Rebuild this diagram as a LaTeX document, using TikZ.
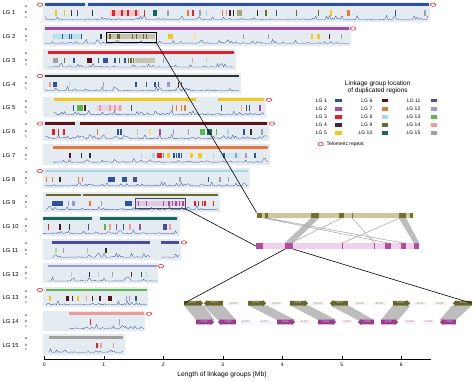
\documentclass[tikz,border=0pt]{standalone}
\usepackage{fontspec}
\setmainfont{Liberation Sans}
\usetikzlibrary{shapes.arrows,calc}
\pgfdeclarelayer{back}
\pgfsetlayers{back,main}

\definecolor{lg1}{HTML}{3050A0}
\definecolor{lg2}{HTML}{A04BA0}
\definecolor{lg3}{HTML}{E0202A}
\definecolor{lg4}{HTML}{303030}
\definecolor{lg5}{HTML}{F2C81E}
\definecolor{lg6}{HTML}{5C1018}
\definecolor{lg7}{HTML}{E8763A}
\definecolor{lg8}{HTML}{A8D8E8}
\definecolor{lg9}{HTML}{6E6A2C}
\definecolor{lg10}{HTML}{17685A}
\definecolor{lg11}{HTML}{4C4A9C}
\definecolor{lg12}{HTML}{9C9AD4}
\definecolor{lg13}{HTML}{5CB84A}
\definecolor{lg14}{HTML}{F09A9A}
\definecolor{lg15}{HTML}{A0A0A0}
\definecolor{panelbg}{HTML}{E4ECF2}
\definecolor{densblue}{HTML}{3A58A8}
\definecolor{telored}{HTML}{E0303A}
\definecolor{paleolive}{HTML}{CEC79E}
\definecolor{darkolive}{HTML}{747030}
\definecolor{palepink}{HTML}{F0D0EA}
\definecolor{deeppink}{HTML}{B04C9E}
\definecolor{geneolive}{HTML}{66662A}
\definecolor{genemag}{HTML}{9A3A90}

\tikzset{
  lglab/.style={anchor=west, inner sep=0, font=\fontsize{5.8}{6}\selectfont},
  rowlab/.style={inner sep=0, font=\fontsize{3.4}{3.6}\selectfont},
  telo/.style={draw=telored, line width=0.6pt},
  dens/.style={densblue, line width=0.35pt, line join=round},
  hlbox/.style={draw, line width=0.8pt, inner sep=0},
  zoomline/.style={black, line width=0.6pt},
  linkband/.style={fill=black!26},
  linkline/.style={draw=black!32, line width=0.6pt},
  geneR/.style={single arrow, single arrow head extend=1pt, single arrow head indent=0pt,
    inner xsep=0.4pt, inner ysep=1.2pt, text height=1.6pt, text depth=0.3pt,
    font=\fontsize{2.6}{2.8}\selectfont},
  geneL/.style={geneR, shape border rotate=180},
  topgene/.style={fill=geneolive, text=paleolive!50!white},
  botgene/.style={fill=genemag, text=palepink},
  paletag/.style={inner sep=0.4pt, minimum width=12pt, minimum height=3.6pt, text=black!45,
    font=\fontsize{2.6}{2.8}\selectfont},
  leglab/.style={anchor=east, inner sep=0, font=\fontsize{5}{5}\selectfont},
  swatch/.style={minimum width=6.7pt, minimum height=3.5pt, inner sep=0},
  ticklab/.style={inner sep=0, font=\fontsize{5}{5}\selectfont}
}

\begin{document}
\begin{tikzpicture}[x=1pt,y=-1pt]
\useasboundingbox (0,0) rectangle (474,381);
\pgfmathsetseed{11}

\foreach \i/\pe [evaluate=\i as \yl using 12.7+(\i-1)*23.77] in {1/430,2/351,3/236,4/241,5/266,6/269,7/270,8/250,9/220,10/180,11/181,12/158,13/148,14/145,15/125}{
  \fill[panelbg] (43,{\yl-11}) rectangle (\pe,{\yl+9.3});
  \node[lglab] (lg\i) at (2.5,\yl) {LG \i};
  \node[rowlab] (a\i) at (26,{\yl-6.6}) {a};
  \node[rowlab] (b\i) at (26,{\yl-0.4}) {b};
  \node[rowlab] (c\i) at (26,{\yl+4.6}) {c};
}

\foreach \i/\pa/\pb [evaluate=\i as \yl using 12.7+(\i-1)*23.77] in {1/45/85,1/88/429,2/45/349,3/48/234,4/45/239,5/54/196,5/218/264,6/45/75,6/80/267,7/53/268,8/45/248,9/46/81,9/83/218,10/43/92,10/100/177,11/52/150,11/161/179,12/48/157,13/46/147,14/69/144,15/49/123}
  \fill[lg\i] (\pa,{\yl-9.3}) rectangle (\pb,{\yl-6.7});

\foreach \i/\p [evaluate=\i as \yl using 12.7+(\i-1)*23.77] in {1/40,1/433,2/353,4/40,5/269,6/40,6/272,8/40,11/184,12/161,13/40,14/149}
  \draw[telo] (\p,{\yl-8}) ellipse (2.7pt and 1.7pt);

\foreach \i/\pa/\pb/\c [evaluate=\i as \yl using 12.7+(\i-1)*23.77] in {1/110/140/lg3!25,2/53.3/81.7/lg8!80,2/107.3/155/lg9!40,3/135/155/lg9!40,5/96.7/121.7/lg2!25,7/220/240/lg8!60,9/135.7/185/lg2!30,
  1/112/115/lg3,1/153/157/lg10,1/236.7/241.7/lg9!60,1/346.7/349.5/lg7,
  2/116.7/120/lg9,2/168.3/173.3/lg5,2/310.7/313.3/lg5,2/317.3/320/lg5,
  3/53.3/58.3/lg15,3/87.3/91.7/lg6,3/102.7/108.3/lg1,
  4/53.3/56.7/lg1,4/166.7/170/lg12,
  5/77.3/82.7/lg13,
  6/51.7/55/lg3,6/62.7/65/lg3,6/116.7/118.5/lg1,6/120/121.7/lg1,6/200/205/lg13,6/206.7/211.7/lg10,
  7/151.7/155/lg8,7/156.7/161.7/lg3,7/166.7/170/lg5,7/190/193.3/lg5,7/198.3/201.7/lg5,
  8/108.3/115/lg1,8/121.7/126.7/lg1,8/133.3/136.7/lg11,
  9/51.7/63.3/lg1,9/71.7/75/lg12,9/125/131.7/lg1,
  10/163.3/166.7/lg11,
  13/48.5/51/lg5,13/66.3/68.7/lg6,13/76.5/79/lg5,
  15/96/98.3/lg3}
  \fill[\c] (\pa,{\yl-2.3}) rectangle (\pb,{\yl+3});

\foreach \i/\p/\c [evaluate=\i as \yl using 12.7+(\i-1)*23.77] in {1/56/lg5,1/64.3/lg5,1/71.7/lg4,1/77.3/lg1,1/92.7/lg4,1/122/lg3,1/128/lg3,1/136/lg3,1/144.3/lg3,1/168/lg15,1/188/lg7,1/193/lg3,1/200/lg15,1/206.7/lg8,1/222.7/lg7,1/226.7/lg14,1/230/lg4,1/233.3/lg6,1/257.7/lg4,1/266/lg9,1/276.7/lg1,1/296.7/lg9,1/318.3/lg9,1/331/lg5,1/395.7/lg1,1/425/lg15,
  2/62.3/lg1,2/69.3/lg1,2/71.7/lg1,2/81.7/lg1,2/101/lg4,2/110/lg9,2/132.7/lg9,2/136.7/lg9,2/143.3/lg9,2/146.7/lg9,2/195/lg5!50,2/243.3/lg15,2/268.3/lg15,2/329.3/lg6,2/341.7/lg15,
  3/64.3/lg9,3/74/lg1,3/98.3/lg1,3/115/lg1,3/119.3/lg1,3/125/lg1,3/128.5/lg9,3/131/lg9,3/133.5/lg9,3/163.3/lg15,3/192.7/lg14,3/206.7/lg13!50,
  4/50/lg14,4/69.3/lg13!50,4/103.3/lg15,4/136/lg1,4/146.7/lg1,4/155/lg1,4/158.3/lg1,4/178.3/lg6,4/181.3/lg9,
  5/73.3/lg1,5/85/lg4,5/100/lg14,5/110/lg14,5/115/lg14,5/120/lg14,5/131.7/lg1,5/172.3/lg7,5/176.7/lg7,5/181.7/lg7,5/185/lg7,5/221.7/lg1,5/241.7/lg14,5/246.7/lg11,5/249.3/lg1,5/260/lg2,
  6/58.3/lg3,6/97.3/lg7,6/137.3/lg13!60,6/150/lg5!60,6/160/lg2,6/173.3/lg12,6/188.3/lg15,6/216.7/lg13,6/228/lg8,6/244/lg1,6/251/lg4,6/262/lg15,
  7/70/lg6,7/81.7/lg4,7/90/lg4,7/141.7/lg8,7/163.3/lg7,7/174/lg1,7/176.5/lg1,7/179/lg1,7/181.3/lg1,7/213.3/lg8,7/224/lg1,7/236/lg12,7/246/lg12,7/255/lg1,
  8/46.7/lg7,8/52.7/lg7,8/60/lg4,8/78.3/lg7,8/82.7/lg7,8/180/lg15,8/208.3/lg1,8/220/lg15,8/228.3/lg15,
  9/68.3/lg12,9/90/lg7,9/101.7/lg15,9/138.3/lg2,9/146.7/lg2,9/163.3/lg2,9/169/lg2,9/172.5/lg2,9/176/lg2,9/179.5/lg2,9/183/lg2,9/195/lg3,9/198.3/lg3,9/202.7/lg3,9/205/lg3,9/213.3/lg3,
  10/48.3/lg3,10/60/lg6,10/69.3/lg4,10/88.3/lg11,10/105/lg13,10/110/lg14,10/116.7/lg2,10/123.3/lg1,10/130/lg14,10/140/lg2,10/170/lg14,
  11/56/lg13!50,11/63.3/lg15,11/87.3/lg10!40,11/106/lg4,
  12/71.7/lg13!50,12/89.3/lg4,12/98.3/lg15!60,12/112.7/lg15,12/131.7/lg4,12/141.7/lg10,12/146.7/lg8,
  13/72.7/lg4,13/86.7/lg14,13/92.7/lg6,13/100/lg6,13/108.3/lg6,13/110/lg6,13/111.7/lg6,13/126.7/lg12,13/129.3/lg12,13/136/lg10,
  14/90.7/lg3,14/119.3/lg15,
  15/101/lg14,15/113.3/lg14}
  \fill[\c] ({\p-0.6},{\yl-2.3}) rectangle ({\p+0.6},{\yl+3});

\foreach \i/\pa/\pb/\ns [evaluate=\i as \yl using 12.7+(\i-1)*23.77] in {1/45/428/250,2/45/349/200,3/48/234/125,4/45/239/130,5/54/264/140,6/45/267/150,7/53/268/145,8/45/248/135,9/46/218/115,10/43/177/90,11/52/150/65,11/161/179/12,12/48/157/73,13/46/147/68,14/69/144/50,15/49/123/50}
  \draw[dens] plot[domain=\pa:\pb, samples=\ns] (\x,{\yl+6.8-4.2*pow(rnd,7)});

\node[hlbox, draw=black, minimum width=50pt, minimum height=10pt] (boxtwo) at (131,37.3) {};
\node[hlbox, draw=black!70, minimum width=49.3pt, minimum height=10pt] (boxnine) at (160.3,203.3) {};

\node[inner sep=0, align=center, font=\fontsize{6.5}{6.4}\selectfont] (legtitle) at (377.7,87.5) {Linkage group location\\of duplicated regions};
\foreach \i in {1,...,15}{
  \pgfmathtruncatemacro\col{(\i-1)/5}
  \pgfmathsetmacro\ly{100.7+8.1*mod(\i-1,5)}
  \pgfmathsetmacro\lx{{327,372.5,420.5}[\col]}
  \node[leglab] (leg\i) at (\lx,\ly) {LG \i};
  \node[swatch, fill=lg\i] (sw\i) at ({\lx+11.5+\col},\ly) {};
}
\draw[telo] (320.7,144) ellipse (2.7pt and 1.7pt);
\node[leglab, anchor=west] (telolab) at (326.5,144) {Telomeric repeat};

\node[fill=paleolive, minimum width=156.6pt, minimum height=5.4pt, inner sep=0] (olivebar) at (335,215.3) {};
\foreach \pa/\pb in {256.7/261.7,265.3/268.3,311/319.3,339.3/344,398.7/406,410/412.7}
  \fill[darkolive] (\pa,212.6) rectangle (\pb,218);
\draw[darkolive, line width=0.4pt] (352.3,212.6) -- (352.3,218);

\node[fill=palepink, minimum width=163.3pt, minimum height=6pt, inner sep=0] (pinkbar) at (337.65,246) {};
\node[fill=deeppink, minimum width=8.3pt, minimum height=6pt, inner sep=0] (pinkblk) at (289.15,246) {};
\foreach \pa/\pb in {256/263.3,385/391,401/405.7,413.7/419.3}
  \fill[deeppink] (\pa,243) rectangle (\pb,249);
\draw[deeppink, line width=0.4pt] (342.3,243) -- (342.3,249) (374.3,243) -- (374.3,249);

\fill[linkband] (311,218) -- (319.3,218) -- (pinkblk.north east) -- (pinkblk.north west) -- cycle;
\fill[linkband] (398.7,218) -- (406,218) -- (419.3,243) -- (413.7,243) -- cycle;
\draw[linkline] (341.5,218) -- (291,243) (263.5,218) -- (388,243) (267,218) -- (403,243) (352.3,218) -- (374.3,243) (400,218) -- (342.3,243);

\node[geneR,topgene,minimum height=19pt] (t02730) at (192.5,303.3) {02730};
\node[geneL,topgene,minimum height=19pt] (t02731) at (214.5,303.3) {02731};
\node[paletag,fill=paleolive!25] (t02732) at (233.5,303.3) {02732};
\node[geneR,topgene,minimum height=18pt] (t02733) at (256,303.3) {02733};
\node[paletag,fill=paleolive!25] (t02734) at (276,303.3) {02734};
\node[geneR,topgene,minimum height=18pt] (t02735) at (298,303.3) {02735};
\node[paletag,fill=paleolive!25] (t02736) at (318,303.3) {02736};
\node[geneL,topgene,minimum height=18pt] (t02737) at (340,303.3) {02737};
\node[paletag,fill=paleolive!25] (t02738) at (360,303.3) {02738};
\node[paletag,fill=paleolive!25] (t02739) at (379.5,303.3) {02739};
\node[geneR,topgene,minimum height=17pt] (t02740) at (400.5,303.3) {02740};
\node[paletag,fill=paleolive!25] (t02741) at (420,303.3) {02741};
\node[paletag,fill=paleolive!25] (t02742) at (440,303.3) {02742};
\node[geneL,topgene,minimum height=19pt] (t02743) at (463.5,303.3) {02743};

\node[geneR,botgene,minimum height=18pt] (b11488) at (204,322) {11488};
\node[geneL,botgene,minimum height=18pt] (b11489) at (228,322) {11489};
\node[paletag,fill=palepink!35] (b11490) at (245.5,322) {11490};
\node[paletag,fill=palepink!35] (b11491) at (264.5,322) {11491};
\node[geneR,botgene,minimum height=18pt] (b11492) at (285,322) {11492};
\node[paletag,fill=palepink!35] (b11493) at (304.5,322) {11493};
\node[geneR,botgene,minimum height=18pt] (b11494) at (326,322) {11494};
\node[paletag,fill=palepink!35] (b11495) at (347,322) {11495};
\node[geneL,botgene,minimum height=16pt] (b11496) at (367,322) {11496};
\node[geneR,botgene,minimum height=17pt] (b11497) at (388.5,322) {11497};
\node[paletag,fill=palepink!35] (b11498) at (410,322) {11498};
\node[paletag,fill=palepink!35] (b11499) at (428.5,322) {11499};
\node[geneL,botgene,minimum height=16pt] (b11500) at (449,322) {11500};

\begin{pgfonlayer}{back}
\foreach \ta/\ba in {t02730/b11488,t02731/b11489,t02733/b11492,t02735/b11494,t02737/b11496,t02740/b11497,t02743/b11500}
  \fill[linkband] ($(\ta.tail)+(0,2)$) -- ($(\ta.tip)+(0,2)$) -- ($(\ba.tip)+(0,-2)$) -- ($(\ba.tail)+(0,-2)$) -- cycle;
\end{pgfonlayer}

\draw[zoomline] (boxtwo.south east) -- (olivebar.north west);
\draw[zoomline] (boxnine.south east) -- (pinkbar.west);
\draw[zoomline] (pinkblk.south west) -- (t02730.tail);
\draw[zoomline] (pinkblk.south east) -- (t02743.tail);

\draw[line width=0.7pt] (44.3,359) -- (431,359);
\foreach \k in {0,...,6}{
  \draw[line width=0.5pt] ({44.3+59.5*\k},359) -- ({44.3+59.5*\k},356.3);
  \node[ticklab] (tick\k) at ({44.3+59.5*\k},364.5) {\k};
}
\node[inner sep=0, font=\fontsize{6.7}{7}\selectfont] (axtitle) at (222,374.5) {Length of linkage groups (Mb)};
\end{tikzpicture}
\end{document}
